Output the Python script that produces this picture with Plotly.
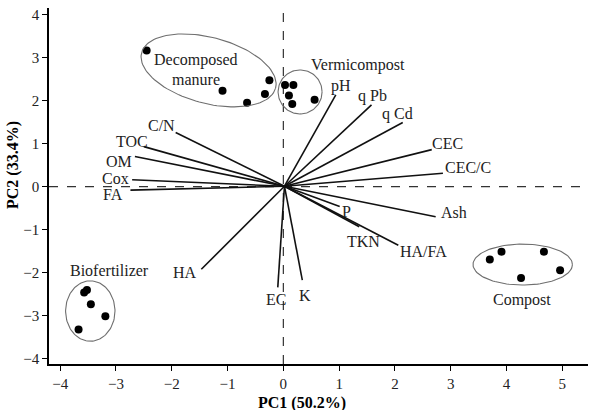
import numpy as np
import plotly.graph_objects as go

# ---- data ----
groups = ["Decomposed manure", "Vermicompost", "Biofertilizer", "Compost"]
manure_x = [-2.45, -1.09, -0.65, -0.33, -0.25]
manure_y = [3.16, 2.23, 1.95, 2.15, 2.47]
vermi_x = [0.03, 0.18, 0.10, 0.16, 0.56]
vermi_y = [2.36, 2.36, 2.12, 1.92, 2.02]
bio_x = [-3.52, -3.57, -3.45, -3.19, -3.67]
bio_y = [-2.40, -2.46, -2.73, -3.01, -3.32]
compost_x = [3.70, 3.91, 4.67, 4.96, 4.26]
compost_y = [-1.69, -1.51, -1.51, -1.94, -2.12]

var_names = ["C/N", "TOC", "OM", "Cox", "FA", "pH", "q Pb", "q Cd", "CEC", "CEC/C",
             "Ash", "P", "TKN", "HA/FA", "HA", "EC", "K"]
load_x = [-1.93, -2.50, -2.66, -2.71, -2.74, 0.94, 1.58, 2.14, 2.66, 2.86,
          2.73, 1.01, 1.36, 2.06, -1.47, -0.10, 0.34]
load_y = [1.26, 0.93, 0.70, 0.16, -0.08, 2.13, 1.90, 1.49, 0.86, 0.31,
          -0.70, -0.46, -0.93, -1.36, -1.92, -2.34, -2.17]
label_x = [-2.18, -2.71, -2.95, -3.01, -3.06, 1.03, 1.60, 2.05, 2.95, 3.31,
           3.06, 1.14, 1.44, 2.52, -1.76, -0.13, 0.385]
label_y = [1.41, 1.05, 0.58, 0.195, -0.19, 2.33, 2.11, 1.69, 1.01, 0.44,
           -0.60, -0.58, -1.28, -1.51, -2.00, -2.63, -2.54]

group_label_text = ["Decomposed", "manure", "Vermicompost", "Biofertilizer", "Compost"]
group_label_x = [-1.56, -1.57, 1.33, -3.12, 4.28]
group_label_y = [2.94, 2.48, 2.83, -1.94, -2.63]

# ellipses: center (data), semi-axes in screen px, rotation deg (clockwise on screen)
ell_cx = [-1.34, 0.30, -3.46, 4.29]
ell_cy = [2.70, 2.20, -2.89, -1.81]
ell_a = [69.3, 22.0, 24.7, 49.7]
ell_b = [33.0, 22.0, 30.2, 20.5]
ell_ang = [14.8, 0.0, 0.0, 0.0]

x_ticks = [-4, -3, -2, -1, 0, 1, 2, 3, 4, 5]
y_ticks = [-4, -3, -2, -1, 0, 1, 2, 3, 4]
x_range = [-4.2, 5.46]
y_range = [-4.12, 4.15]

W, H = 597, 410
ML, MR, MT, MB = 49, 9, 8, 46
sx = (W - ML - MR) / (x_range[1] - x_range[0])
sy = (H - MT - MB) / (y_range[1] - y_range[0])

FONT = "Liberation Serif, Times New Roman, serif"
TXT = "#222"

fig = go.Figure()

# loading vectors
for nm, lx, ly in zip(var_names, load_x, load_y):
    fig.add_trace(go.Scatter(x=[0.02, lx], y=[0.01, ly], mode="lines",
                             line=dict(color="#111", width=1.6), hoverinfo="skip",
                             showlegend=False))

# scores
for xs, ys in [(manure_x, manure_y), (vermi_x, vermi_y), (bio_x, bio_y), (compost_x, compost_y)]:
    fig.add_trace(go.Scatter(x=xs, y=ys, mode="markers",
                             marker=dict(color="black", size=8), showlegend=False))

# ellipses
t = np.linspace(0, 2 * np.pi, 120)
for cx, cy, a, b, ang in zip(ell_cx, ell_cy, ell_a, ell_b, ell_ang):
    th = np.deg2rad(ang)
    dxp = a * np.cos(t) * np.cos(th) - b * np.sin(t) * np.sin(th)
    dyp = a * np.cos(t) * np.sin(th) + b * np.sin(t) * np.cos(th)
    ex = cx + dxp / sx
    ey = cy - dyp / sy
    fig.add_trace(go.Scatter(x=ex, y=ey, mode="lines",
                             line=dict(color="#6e6e6e", width=1.1), hoverinfo="skip",
                             showlegend=False))

# dashed reference lines
fig.add_shape(type="line", x0=0, x1=0, y0=y_range[0], y1=y_range[1], xref="x", yref="y",
              line=dict(color="#333", width=1.2, dash="dash"), layer="below")
fig.add_shape(type="line", x0=x_range[0], x1=x_range[1], y0=0, y1=0, xref="x", yref="y",
              line=dict(color="#333", width=1.2, dash="dash"), layer="below")

for nm, x, y in zip(var_names, label_x, label_y):
    fig.add_annotation(x=x, y=y, text=nm, showarrow=False,
                       font=dict(family=FONT, size=16, color=TXT))
for nm, x, y in zip(group_label_text, group_label_x, group_label_y):
    fig.add_annotation(x=x, y=y, text=nm, showarrow=False,
                       font=dict(family=FONT, size=16, color=TXT))

# axis titles
fig.add_annotation(x=(302 - ML) / (W - ML - MR), y=-(403 - (H - MB)) / (H - MT - MB),
                   xref="paper", yref="paper", text="<b>PC1 (50.2%)</b>", showarrow=False,
                   xanchor="center", yanchor="middle",
                   font=dict(family=FONT, size=16, color="black"))
fig.add_annotation(x=-(ML - 13) / (W - ML - MR), y=(H - MB - 165) / (H - MT - MB),
                   xref="paper", yref="paper", text="<b>PC2 (33.4%)</b>", showarrow=False,
                   textangle=-90, xanchor="center", yanchor="middle",
                   font=dict(family=FONT, size=16, color="black"))

fig.update_layout(
    width=W, height=H, margin=dict(l=ML, r=MR, t=MT, b=MB),
    plot_bgcolor="white", paper_bgcolor="white", showlegend=False,
    font=dict(family=FONT, size=15, color=TXT),
    xaxis=dict(range=x_range, tickvals=x_ticks, showgrid=False, zeroline=False,
               showline=True, linecolor="black", linewidth=1.5, ticks="outside",
               ticklen=5, tickcolor="black", tickfont=dict(family=FONT, size=15, color=TXT)),
    yaxis=dict(range=y_range, tickvals=y_ticks, showgrid=False, zeroline=False,
               showline=True, linecolor="black", linewidth=1.5, ticks="outside",
               ticklen=5, tickcolor="black", tickfont=dict(family=FONT, size=15, color=TXT)),
)

fig.write_html("out.html")
